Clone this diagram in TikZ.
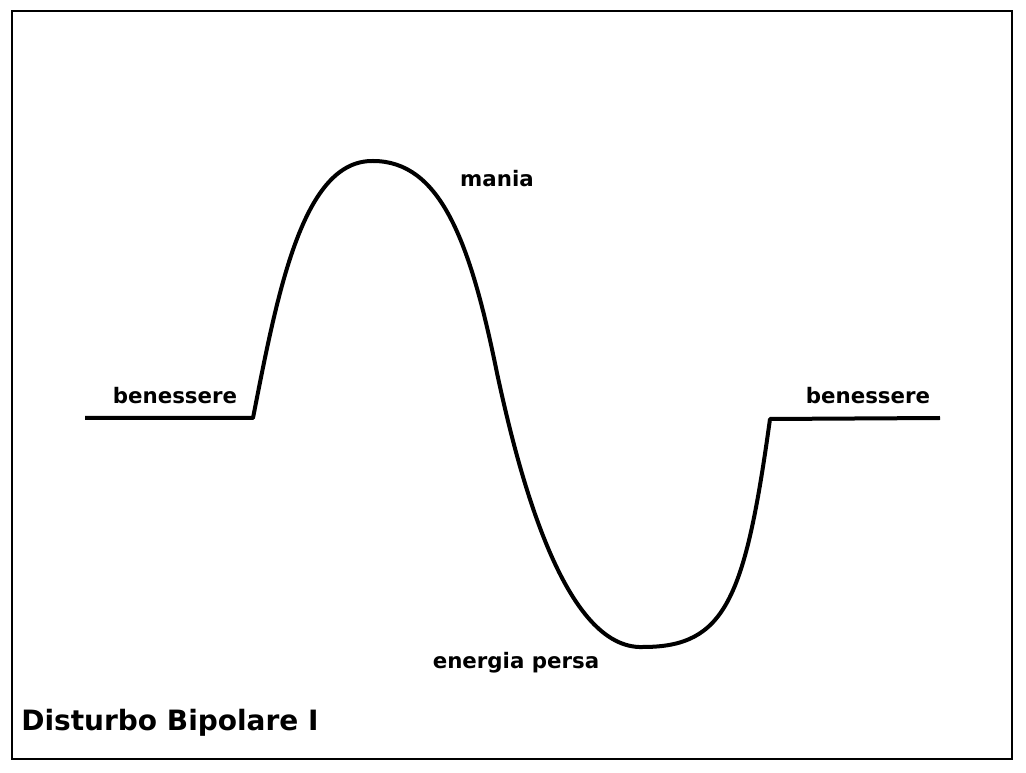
\documentclass[tikz,border=0pt]{standalone}
\usepackage{fontspec}
\setmainfont{DejaVu Sans}

\tikzset{umore/.style={line width=3pt,black,line join=round},
         etichetta/.style={font=\bfseries\fontsize{16}{18}\selectfont,inner sep=0pt,anchor=base}}

\begin{document}
\begin{tikzpicture}[x=0.75pt,y=-0.75pt]
        \useasboundingbox (0,0) rectangle (1026,773);
        \draw[line width=2pt] (12,11) rectangle (1012,759);
        \draw[umore] (85,418) -- (253,418)
            .. controls (278,290) and (303,160) .. (373,161)
            .. controls (440,161) and (470,240) .. (497,373)
            .. controls (520,480) and (565,650) .. (643,647)
            .. controls (725,647) and (745,600) .. (770,419)
            -- (940,418);
        \node[etichetta] (benessereA) at (175,404) {benessere};
        \node[etichetta] (benessereB) at (868,404) {benessere};
        \node[etichetta] (mania) at (497,187) {mania};
        \node[etichetta] (energia) at (516,669) {energia persa};
        \node[etichetta,anchor=base west,font=\bfseries\fontsize{21}{24}\selectfont] (titolo) at (21,731) {Disturbo Bipolare I};
    \end{tikzpicture}
\end{document}
